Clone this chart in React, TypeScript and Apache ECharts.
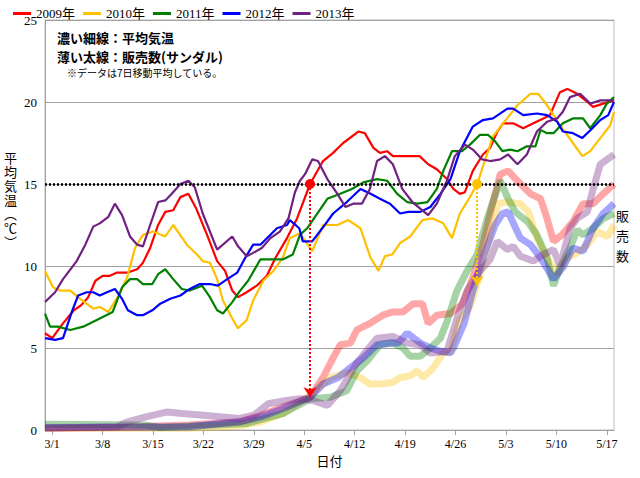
import React, { useEffect, useRef } from "react";
import * as echarts from "echarts";

const years = ["2009年", "2010年", "2011年", "2012年", "2013年"];
const colors = ["#ff0000", "#ffc000", "#008000", "#0000ff", "#702080"];
const tickLabels = ["3/1", "3/8", "3/15", "3/22", "3/29", "4/5", "4/12", "4/19", "4/26", "5/3", "5/10", "5/17"];
const yTicks = [0, 5, 10, 15, 20, 25];

// [day index from 2/28, value]
const temp2009 = [[0,5.9],[1,5.6],[2.5,6.5],[4,7.3],[5,7.6],[6,8.1],[7,9.1],[8,9.4],[9,9.4],[10,9.6],[11.5,9.6],[12.8,9.8],[13.6,10.2],[14.6,11.1],[15.7,12.5],[16.7,13.3],[17.8,13.4],[18.8,14.2],[19.9,14.4],[21,13.5],[22.5,11.9],[23.9,10.3],[25,9.7],[26,8.5],[26.8,8.1],[28,8.4],[29.4,8.8],[30.8,9.4],[32,10.5],[33.6,11.7],[35,12.9],[36.8,15.0],[38.6,16.4],[40,16.9],[41.4,17.5],[43.5,18.2],[44.4,18.1],[45.6,17.2],[46.5,16.9],[47.5,17.0],[48.3,16.7],[50.3,16.7],[52,16.7],[53.2,16.2],[54.4,15.9],[55.8,15.3],[56.7,14.7],[57.6,14.4],[58.3,14.5],[59.4,15.8],[60.8,16.8],[61.8,17.2],[62.8,18.2],[63.6,18.7],[65,18.7],[66.4,18.4],[67.8,18.7],[69.2,19.0],[70.1,19.2],[71.5,20.6],[72.5,20.8],[73.9,20.5],[75.3,20.0],[76.1,19.7],[77.5,19.9],[79,20.1]];
const temp2010 = [[0,9.7],[1.1,8.7],[2.1,8.5],[3.5,8.5],[4.9,8.0],[6.7,7.4],[7.6,7.5],[8.8,7.2],[10.1,8.1],[11.4,9.3],[12.5,11.1],[13.6,11.9],[15,12.1],[16.7,11.8],[17.8,12.5],[19.7,11.3],[21.1,10.7],[21.9,10.3],[22.9,10.2],[23.9,9.2],[24.7,7.9],[26,6.8],[26.8,6.2],[28,6.7],[28.9,7.9],[30.3,9.1],[31.7,9.7],[33,10.5],[34,11.7],[35.4,12.0],[37.1,10.9],[38.6,12.5],[40.6,12.5],[42.1,12.8],[43.8,12.3],[45.2,10.5],[46.3,9.7],[47.2,10.6],[48.2,10.7],[49.3,11.4],[50.7,11.8],[52.4,12.8],[53.8,12.9],[55.3,12.6],[56.5,11.7],[57.6,13.2],[59,14.2],[60,15.0],[62.2,17.9],[63.6,18.7],[65.6,19.8],[67.4,20.5],[68.5,20.5],[69.7,19.8],[71.5,18.6],[73.3,17.5],[74.6,16.7],[75.7,17.0],[77.1,17.8],[78.5,18.6],[79,19.4]];
const temp2011 = [[0,7.1],[0.7,6.3],[1.8,6.3],[3.5,6.1],[5.3,6.3],[7.6,6.8],[9.4,7.2],[10.7,8.7],[11.8,9.2],[12.8,9.2],[13.6,8.9],[14.9,8.9],[15.7,9.5],[16.7,9.8],[17.8,9.2],[19,8.6],[20.1,8.5],[21.8,8.8],[22.9,8.1],[23.9,7.3],[24.7,7.1],[26,7.8],[27.1,8.5],[28.2,9.1],[29.9,10.4],[31.7,10.4],[33,10.4],[34.4,10.7],[35.4,11.9],[36.4,12.3],[39.2,14.1],[41,14.4],[42.6,14.7],[44.2,15.1],[46.1,15.3],[47.5,15.2],[48.9,14.4],[50.3,13.9],[51.7,13.8],[53.1,13.9],[54.4,14.7],[55.3,15.8],[56.5,17.0],[57.9,17.0],[59,17.4],[60.4,18.0],[61.5,18.0],[62.5,17.6],[63.5,17.0],[64.6,17.1],[65.6,17.0],[66.9,17.3],[68.1,17.3],[68.8,18.3],[69.7,18.1],[70.6,18.1],[71.9,18.7],[73.3,19.0],[74.7,19.0],[75.7,18.4],[77.1,19.2],[78,19.9],[79,20.3]];
const temp2012 = [[0,5.6],[1.4,5.5],[2.5,5.6],[3.8,7.3],[4.6,8.2],[5.8,8.4],[6.7,8.4],[7.6,8.2],[8.6,8.4],[9.7,8.6],[10.7,8.0],[11.5,7.3],[12.8,7.0],[13.6,7.0],[14.9,7.3],[16,7.7],[17.4,8.0],[18.8,8.2],[20.1,8.6],[21.5,8.9],[22.9,8.9],[24,8.8],[25.3,9.2],[26.7,9.6],[27.8,10.5],[28.9,11.3],[29.9,11.3],[31.3,11.9],[32.2,12.3],[33.6,12.5],[34,12.8],[35.3,12.3],[35.8,11.5],[37.1,11.5],[38.5,12.3],[40,13.2],[41.9,13.9],[43.8,14.7],[45.2,14.4],[46.5,14.1],[47.9,13.8],[49.3,13.2],[50.4,13.3],[52.1,13.3],[53.5,13.6],[54.9,14.4],[56.3,15.3],[57.6,17.0],[59.4,18.5],[60.8,18.9],[62.2,19.0],[64.2,19.6],[65,19.6],[66.4,19.2],[68.3,19.3],[69.7,19.2],[71.1,18.8],[71.9,18.2],[73.3,18.1],[74.6,17.8],[76,18.4],[77.1,18.9],[78.2,19.2],[79,20.0]];
const temp2013 = [[0,7.8],[1.4,8.4],[2.5,9.2],[4.4,10.3],[5.6,11.3],[6.7,12.4],[7.6,12.6],[8.8,13.0],[9.7,13.8],[10.7,13.1],[11.8,11.8],[12.8,11.3],[13.6,11.2],[14.6,12.5],[15.7,13.9],[16.7,14.0],[17.6,14.4],[18.8,15.0],[19.9,15.2],[20.8,14.8],[21.9,13.2],[23.9,11.0],[26,11.8],[26.8,11.2],[28,10.6],[28.9,10.8],[30.1,11.1],[31.3,11.7],[32.6,12.1],[33.8,12.9],[34.7,14.5],[35.4,15.2],[36.1,15.6],[37.1,16.5],[37.9,16.4],[39.2,15.3],[40.6,14.4],[41.7,13.6],[42.8,13.8],[44,13.8],[45.1,14.7],[46.1,16.4],[47.2,16.7],[48.3,16.2],[49.6,14.7],[51,13.9],[52.1,13.5],[53.2,13.1],[54.4,13.8],[55.8,15.2],[56.9,16.7],[58.3,17.4],[59.4,17.1],[60.7,16.5],[61.8,16.4],[63.2,16.5],[64.3,16.8],[65.6,16.2],[66.9,16.8],[68.3,18.2],[69.7,18.8],[71.1,19.0],[71.9,19.4],[72.9,20.3],[74.3,20.5],[75.7,19.9],[77.1,20.1],[79,20.1]];

const sales2009 = [[0,0.1],[10,0.15],[20,0.3],[27,0.5],[30,0.9],[33,1.4],[36.8,2.0],[38.6,3.2],[40,4.4],[41,5.2],[42.4,5.3],[43.3,6.1],[45.1,6.5],[46.9,7.0],[48.3,7.2],[49.7,7.2],[51.1,7.7],[52.4,7.7],[53.2,6.5],[54.4,7.0],[56.3,7.1],[58,7.7],[59.4,9.3],[60.8,11.3],[62.2,13.9],[63.2,15.6],[64.3,15.8],[66,15.0],[67.4,14.4],[68.8,14.1],[69.7,12.9],[70.6,11.5],[71.8,11.9],[73.3,12.7],[74.7,13.8],[76.1,13.8],[77.5,14.4],[79,15.0]];
const sales2010 = [[0,0.1],[20,0.1],[27,0.25],[30,0.5],[33,1.0],[36.8,2.1],[39.6,3.2],[41.9,3.5],[43.8,3.2],[45.1,2.8],[46.5,2.8],[48.3,2.9],[49.3,3.2],[50.7,3.3],[51.7,3.6],[52.5,3.2],[53.9,3.8],[55.3,4.7],[56.3,4.8],[57.6,6.7],[59,7.5],[60.4,9.5],[61.8,11.9],[62.9,13.8],[64.2,13.9],[66,13.8],[67.1,13.3],[68.3,11.7],[69.7,10.5],[71.1,9.5],[72.5,10.5],[73.9,10.8],[75.3,11.3],[76.7,12.1],[78.1,11.8],[79,12.5]];
const sales2011 = [[0,0.35],[14,0.3],[16,0.15],[28,0.4],[33,1.0],[36.8,1.9],[39.6,2.0],[41.9,2.4],[43.3,3.6],[44.7,4.2],[46.5,5.2],[48.3,5.3],[49.7,5.0],[50.7,4.5],[52.1,4.5],[53.5,5.0],[54.9,5.6],[55.8,6.6],[57.2,8.5],[58.6,9.7],[60,10.7],[61.4,12.9],[63.2,15.2],[64.3,14.1],[65.3,13.3],[67,12.7],[68.3,11.9],[69.7,10.5],[70.6,8.8],[71.5,9.9],[72.9,11.1],[73.9,12.2],[74.7,11.9],[76.1,12.3],[77.5,12.9],[79,13.2]];
const sales2012 = [[0,0.15],[20,0.2],[27,0.5],[30,0.8],[33,1.3],[36.8,2.0],[38.6,2.8],[40.7,3.2],[42.4,3.8],[44.2,4.4],[46.1,5.2],[47.9,5.3],[49,5.3],[50.3,5.9],[52.1,5.3],[53.5,5.0],[54.9,4.8],[56.3,4.7],[56.7,5.0],[58.2,6.5],[59.4,8.5],[60.8,10.5],[62.5,12.5],[63.5,13.2],[64.3,13.3],[66,11.7],[67.4,11.3],[68.8,10.5],[70.6,9.2],[71.9,9.9],[73.3,11.1],[74.7,10.9],[76.1,12.3],[77.5,13.2],[79,13.8]];
const sales2013 = [[0,0.1],[10,0.2],[11.5,0.5],[14,0.8],[17,1.1],[19,1.0],[22,0.9],[27,0.7],[29,0.9],[31,1.6],[33.5,1.8],[35.4,1.9],[37.2,1.8],[39.2,1.5],[41,2.4],[43.3,4.1],[46.1,5.6],[48.3,5.7],[50.3,5.3],[52.1,5.2],[53.5,4.7],[55.8,4.8],[57.2,6.8],[58.6,8.5],[60.4,9.7],[61.8,10.4],[62.8,11.5],[64.2,11.0],[65,11.2],[66,10.6],[67.8,10.3],[69.2,10.7],[70.6,11.0],[71.5,10.0],[72.9,12.3],[73.9,12.9],[75.3,13.3],[76.1,14.7],[77.1,16.2],[79,16.8]];

const temps = [temp2009, temp2010, temp2011, temp2012, temp2013];
const sales = [sales2009, sales2010, sales2011, sales2012, sales2013];
const monthDays = [["2", 28, 28], ["3", 1, 31], ["4", 1, 30], ["5", 1, 18]];
const redArrow = { day: 36.8, from: 15, to: 2.0 };
const yellowArrow = { day: 60, from: 15, to: 8.8 };

const FONT = "'Liberation Serif', 'Noto Sans CJK JP', serif";

export default function App() {
  const ref = useRef<HTMLDivElement>(null);
  useEffect(() => {
    document.body.style.margin = "0";
    const chart = echarts.init(ref.current!, null, { renderer: "svg" });
    const cats: string[] = [];
    monthDays.forEach(([m, s, e]) => {
      for (let d = s as number; d <= (e as number); d++) cats.push(`${m}/${d}`);
    });
    const labelSet = new Set(tickLabels);
    const series: any[] = [];
    sales.forEach((s, i) => {
      series.push({
        name: "s" + years[i], type: "line", xAxisIndex: 1, data: s, showSymbol: false,
        lineStyle: { color: colors[i], width: 7, opacity: 0.35 }, itemStyle: { color: colors[i] }, z: 1,
      });
    });
    temps.forEach((t, i) => {
      series.push({
        name: years[i], type: "line", xAxisIndex: 1, data: t, showSymbol: false,
        lineStyle: { color: colors[i], width: 2.2 }, itemStyle: { color: colors[i] }, z: 3,
      });
    });
    series.push({
      name: "marks", type: "line", xAxisIndex: 1, data: [], z: 5,
      markLine: {
        silent: true, symbol: "none", label: { show: false },
        lineStyle: { color: "#000", type: [2, 2], width: 2.5 },
        data: [{ yAxis: 15 }],
      },
    });
    [[redArrow, colors[0]], [yellowArrow, colors[1]]].forEach(([a, c]: any) => {
      series.push({
        name: "arrow" + c, type: "line", xAxisIndex: 1, z: 6, showSymbol: false, data: [],
        markLine: {
          silent: true, symbol: ["circle", "arrow"], symbolSize: [10, 10], label: { show: false },
          lineStyle: { color: c, type: [2, 2], width: 2 }, itemStyle: { color: c },
          data: [[{ coord: [a.day, a.from] }, { coord: [a.day, a.to] }]],
        },
      });
    });
    chart.setOption({
      animation: false,
      textStyle: { fontFamily: FONT },
      legend: {
        data: years, top: 2, left: 8, itemGap: 8, icon: "rect", itemWidth: 18, itemHeight: 3,
        textStyle: { fontFamily: FONT, fontSize: 13, color: "#000" },
      },
      grid: { left: 45, right: 26, top: 20, bottom: 48, show: true, borderColor: "#bdbdbd", borderWidth: 1 },
      xAxis: [
        {
          type: "category", data: cats, boundaryGap: false,
          axisLine: { lineStyle: { color: "#a0a0a0" } },
          axisTick: { interval: (i: number, v: string) => labelSet.has(v), lineStyle: { color: "#a0a0a0" } },
          axisLabel: { interval: (i: number, v: string) => labelSet.has(v), color: "#000", fontSize: 12, fontFamily: FONT },
          splitLine: { show: false },
          name: "日付", nameLocation: "middle", nameGap: 22,
          nameTextStyle: { color: "#000", fontSize: 13, fontFamily: FONT },
        },
        { type: "value", min: 0, max: 79, show: false },
      ],
      yAxis: {
        type: "value", min: 0, max: 25, interval: 5,
        axisLine: { show: true, lineStyle: { color: "#a0a0a0" } },
        axisTick: { show: false },
        axisLabel: { color: "#000", fontSize: 13, fontFamily: FONT, formatter: (v: number) => (yTicks.includes(v) ? String(v) : "") },
        splitLine: { lineStyle: { color: "#a0a0a0" } },
      },
      graphic: [
        { type: "text", left: 57, top: 31, style: { text: "濃い細線：平均気温", font: "bold 13px 'Noto Sans CJK JP'", fill: "#000" } },
        { type: "text", left: 57, top: 50, style: { text: "薄い太線：販売数(サンダル)", font: "bold 13px 'Noto Sans CJK JP'", fill: "#000" } },
        { type: "text", left: 67, top: 67, style: { text: "※データは7日移動平均している。", font: "10px 'Noto Sans CJK JP'", fill: "#000" } },
        { type: "text", left: 4, top: 150, style: { text: "平\n均\n気\n温\n︵\n℃\n︶", font: "13px 'Noto Sans CJK JP'", fill: "#000", lineHeight: 14 } },
        { type: "text", left: 616, top: 205, style: { text: "販\n売\n数", font: "13px 'Noto Sans CJK JP'", fill: "#000", lineHeight: 20 } },
      ],
      series,
    });
    return () => chart.dispose();
  }, []);
  return <div ref={ref} style={{ width: 640, height: 478 }} />;
}
